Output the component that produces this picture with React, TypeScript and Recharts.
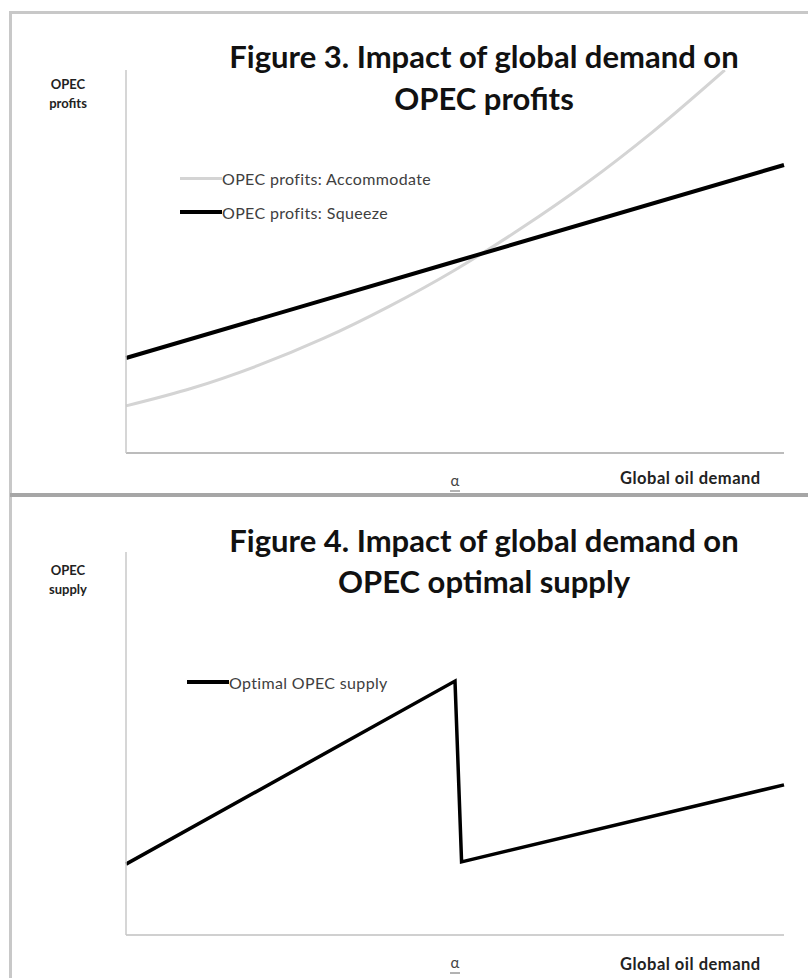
import React from 'react';
import { LineChart, Line, XAxis, YAxis } from 'recharts';

// Figure 3: OPEC profits vs global oil demand
const accommodateDemand = [0, 10, 20, 30, 40, 50, 60, 70, 80, 91];
const accommodateProfits = [12.3, 16.9, 22.8, 29.9, 38.3, 47.8, 58.6, 70.5, 83.8, 100];
const squeezeDemand = [0, 50, 100];
const squeezeProfits = [24.8, 50.0, 75.2];

// Figure 4: optimal OPEC supply vs global oil demand
const supplyDemand = [0, 50, 51, 100];
const supplyValues = [18.5, 66.3, 19.1, 39.2];

const thresholdTicks = [50];
const thresholdLabel = 'α';

const accData = accommodateDemand.map((x, i) => ({ x, y: accommodateProfits[i] }));
const sqzData = squeezeDemand.map((x, i) => ({ x, y: squeezeProfits[i] }));
const supData = supplyDemand.map((x, i) => ({ x, y: supplyValues[i] }));

const FONT = 'Lato, "Open Sans", sans-serif';

const AlphaTick = ({ x, y }: any) => (
  <g>
    <text x={x} y={y + 25} textAnchor="middle" fontFamily={FONT} fontSize={15} fill="#444">
      {thresholdLabel}
    </text>
    <line x1={x - 5} x2={x + 5} y1={y + 30} y2={y + 30} stroke="#666" strokeWidth={1} />
  </g>
);

const renderLegend = (items: { label: string; color: string; width: number }[]) => () => (
  <div style={{ fontFamily: FONT, fontSize: 16, letterSpacing: 0.35, color: '#404040' }}>
    {items.map((it) => (
      <div key={it.label} style={{ display: 'flex', alignItems: 'center', height: 34 }}>
        <div style={{ width: 42, height: it.width, background: it.color }} />
        <span>{it.label}</span>
      </div>
    ))}
  </div>
);

const text = (s: React.CSSProperties): React.CSSProperties => ({
  position: 'absolute',
  fontFamily: FONT,
  margin: 0,
  whiteSpace: 'nowrap',
  ...s,
});

const App: React.FC = () => {
  return (
    <div style={{ position: 'absolute', left: 0, top: 0, width: 808, height: 978, background: '#fff', overflow: 'hidden' }}>
      {/* frame */}
      <div style={{ position: 'absolute', left: 9, top: 11, width: 810, height: 980, borderTop: '3px solid #c8c8c8', borderLeft: '3px solid #c8c8c8' }} />
      <div style={{ position: 'absolute', left: 10, top: 493, width: 800, height: 4, background: '#a6a6a6' }} />

      {/* Figure 3 */}
      <div style={{ position: 'absolute', left: 0, top: 0 }}>
        <LineChart width={808} height={493} margin={{ top: 70, right: 24, bottom: 0, left: 125 }}>
          <XAxis
            type="number"
            dataKey="x"
            domain={[0, 100]}
            ticks={thresholdTicks}
            tickLine={false}
            tick={<AlphaTick />}
            axisLine={{ stroke: '#a6a6a6', strokeWidth: 1.5 }}
            height={40}
          />
          <YAxis type="number" domain={[0, 100]} allowDataOverflow tick={false} tickLine={false} width={1} axisLine={{ stroke: '#c8c8c8', strokeWidth: 1.5 }} />
          <Line data={accData} dataKey="y" type="monotone" stroke="#d4d4d4" strokeWidth={3} dot={false} isAnimationActive={false} />
          <Line data={sqzData} dataKey="y" type="linear" stroke="#000" strokeWidth={4} dot={false} isAnimationActive={false} />
        </LineChart>
      </div>
      <div style={{ position: 'absolute', left: 180, top: 161 }}>
        {renderLegend([
          { label: 'OPEC profits: Accommodate', color: '#d4d4d4', width: 3 },
          { label: 'OPEC profits: Squeeze', color: '#000', width: 4 },
        ])()}
      </div>
      <div style={text({ left: 184, top: 35, width: 600, textAlign: 'center', fontSize: 31, fontWeight: 700, lineHeight: '42px', color: '#111' })}>
        Figure 3. Impact of global demand on
        <br />
        OPEC profits
      </div>
      <div style={text({ left: 38, top: 75, width: 60, textAlign: 'center', fontSize: 13, fontWeight: 700, lineHeight: '19px', color: '#222' })}>
        OPEC
        <br />
        profits
      </div>
      <div style={text({ left: 620, top: 468, fontSize: 16.5, letterSpacing: 0.5, fontWeight: 700, color: '#222' })}>Global oil demand</div>

      {/* Figure 4 */}
      <div style={{ position: 'absolute', left: 0, top: 497 }}>
        <LineChart width={808} height={481} margin={{ top: 55, right: 24, bottom: 0, left: 125 }}>
          <XAxis
            type="number"
            dataKey="x"
            domain={[0, 100]}
            ticks={thresholdTicks}
            tickLine={false}
            tick={<AlphaTick />}
            axisLine={{ stroke: '#c0c0c0', strokeWidth: 1.5 }}
            height={43}
          />
          <YAxis type="number" domain={[0, 100]} tick={false} tickLine={false} width={1} axisLine={{ stroke: '#c8c8c8', strokeWidth: 1.5 }} />
          <Line data={supData} dataKey="y" type="linear" stroke="#000" strokeWidth={3.5} dot={false} isAnimationActive={false} />
        </LineChart>
      </div>
      <div style={{ position: 'absolute', left: 187, top: 665 }}>
        {renderLegend([{ label: 'Optimal OPEC supply', color: '#000', width: 4 }])()}
      </div>
      <div style={text({ left: 184, top: 520, width: 600, textAlign: 'center', fontSize: 31, fontWeight: 700, lineHeight: '41px', color: '#111' })}>
        Figure 4. Impact of global demand on
        <br />
        OPEC optimal supply
      </div>
      <div style={text({ left: 38, top: 561, width: 60, textAlign: 'center', fontSize: 13, fontWeight: 700, lineHeight: '19px', color: '#222' })}>
        OPEC
        <br />
        supply
      </div>
      <div style={text({ left: 620, top: 954, fontSize: 16.5, letterSpacing: 0.5, fontWeight: 700, color: '#222' })}>Global oil demand</div>
    </div>
  );
};

export default App;
